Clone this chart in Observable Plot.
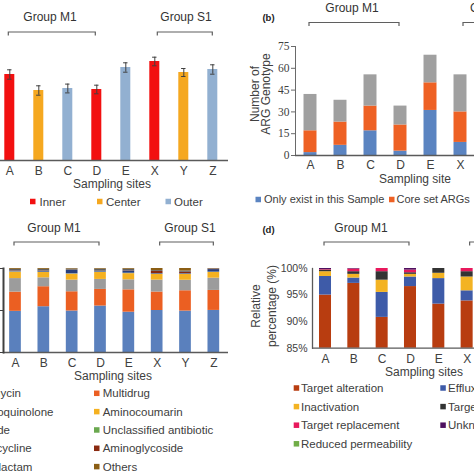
<!DOCTYPE html>
<html><head><meta charset="utf-8">
<script src="https://cdn.jsdelivr.net/npm/d3@7"></script>
<script src="https://cdn.jsdelivr.net/npm/@observablehq/plot@0.6"></script>
<style>
html,body{margin:0;padding:0;background:#fff;}
#wrap{position:relative;width:474px;height:474px;overflow:hidden;background:#fff;color:#404040;}
#wrap svg{position:absolute;left:0;top:0;}
</style></head><body><div id="wrap"></div>
<script>
// ---------- data ----------
const sites = ["A","B","C","D","E","X","Y","Z"];
// panel a
const zones = ["Inner","Center","Outer"];
const zoneColors = ["#f21010","#f5a820","#92b0d1"];
const zoneA = ["Inner","Center","Outer","Inner","Outer","Inner","Center","Outer"];
const valueA = [8.6,7.0,7.2,7.1,9.3,9.9,8.8,9.1];
const errA = [0.47,0.47,0.44,0.43,0.47,0.43,0.40,0.47];
// panel b
const sitesB = ["A","B","C","D","E","X"];
const seriesB = ["Only exist in this Sample","Core set ARGs","Shared ARGs"];
const colorsB = ["#5b84c1","#ee6124","#a0a0a0"];
const uniqueB = [2,7,17,3,31,9];
const coreB = [15,16,17,18,19,21];
const sharedB = [25,15,21.5,13,19,25.5];
const yTicksB = [0,15,30,45,60,75];
// panel c
const classesC = ["Elfamycin","Multidrug","Fluoroquinolone","Aminocoumarin","Peptide","Unclassified antibiotic","Tetracycline","Aminoglycoside","Beta-lactam","Others"];
const colorsC = ["#5a80bd","#eb5f22","#9c9c9c","#f5b120","#6fa3d8","#6aa84f","#283f7c","#8a2a10","#5f5f5f","#8b5e14"];
const elfamycinC = [49.0,54.5,49.4,55.3,48.0,50.0,49.3,50.1];
const multidrugC = [22.9,23.8,22.9,19.8,26.6,22.0,24.2,23.8];
const fluoroC = [16.1,10.6,13.9,11.9,11.9,14.2,12.5,14.6];
const aminocoumarinC = [7.7,6.4,7.1,8.3,7.4,6.7,6.9,6.8];
const peptideC = [0.3,0.3,0.3,0.4,0.4,0.3,0.3,0.3];
const unclassifiedC = [0.1,0.1,0.1,0.1,0.1,0.1,0.1,0.1];
const tetracyclineC = [0.8,0.9,4.0,0.8,2.6,0.6,0.6,3.0];
const aminoglycosideC = [0.4,0.4,0.3,0.2,0.3,2.6,1.6,0.5];
const betalactamC = [1.7,2.0,1.4,2.4,1.8,1.0,1.5,0.5];
const othersC = [1.0,1.0,0.6,0.8,0.9,2.5,3.0,0.3];
// panel d
const sitesD = ["A","B","C","D","E","X"];
const mechD = ["Target alteration","Efflux","Inactivation","Target protection","Target replacement","Unknown","Reduced permeability"];
const colorsD = ["#b83d10","#3e5ba8","#f3b323","#333333","#e8185c","#4e1060","#70ad47"];
const alterationD = [95.0,97.2,90.8,96.6,93.3,93.9];
const effluxD = [3.5,1.0,4.7,1.8,4.8,1.9];
const inactivationD = [0.9,0.7,2.3,0.5,1.0,2.6];
const protectionD = [0.3,0.5,1.6,0.3,0.9,1.0];
const replacementD = [0.1,0.5,0.6,0.5,0.0,0.6];
const unknownD = [0.2,0.1,0.0,0.3,0.0,0.0];
const permeabilityD = [0,0,0,0,0,0];
const yTicksD = [85,90,95,100];

// ---------- tables ----------
const dataA = sites.map((s,i)=>({site:s, zone:zoneA[i], value:valueA[i], err:errA[i]}));
const dataB = [];
sitesB.forEach((s,i)=>{[uniqueB,coreB,sharedB].forEach((arr,k)=>dataB.push({site:s, series:seriesB[k], n:arr[i]}));});
const arrC = [elfamycinC,multidrugC,fluoroC,aminocoumarinC,peptideC,unclassifiedC,tetracyclineC,aminoglycosideC,betalactamC,othersC];
const dataC = [];
sites.forEach((s,i)=>arrC.forEach((arr,k)=>dataC.push({site:s, cls:classesC[k], v:arr[i]})));
const arrD = [alterationD,effluxD,inactivationD,protectionD,replacementD,unknownD,permeabilityD];
const dataD = [];
sitesD.forEach((s,i)=>arrD.forEach((arr,k)=>dataD.push({site:s, mech:mechD[k], v:arr[i]})));

const W=474, H=474;
const SANS = "'Liberation Sans', Arial, sans-serif";
const TXT = "#404040";
const style = {background:"transparent", fontFamily:SANS, fontSize:"12px", color:TXT, overflow:"visible"};
const wrap = document.getElementById("wrap");

// ---------- panel a ----------
const plotA = Plot.plot({
  width:W, height:H, style, marginLeft:0, marginRight:W-228, marginTop:40, marginBottom:H-160,
  x:{domain:sites, range:[-5.2,226.8], paddingInner:0.655, paddingOuter:0.3275, round:false},
  y:{domain:[0,12], axis:null},
  color:{domain:zones, range:zoneColors},
  marks:[
    Plot.barY(dataA,{x:"site", y:"value", fill:"zone"}),
    Plot.ruleY([0],{stroke:"#5a5a5a", strokeWidth:1.3}),
    Plot.ruleX(dataA,{x:"site", y1:d=>d.value-d.err, y2:d=>d.value+d.err, stroke:"#404040"}),
    Plot.tickY(dataA,{x:"site", y:d=>d.value+d.err, stroke:"#404040", insetLeft:2.8, insetRight:2.8}),
    Plot.tickY(dataA,{x:"site", y:d=>d.value-d.err, stroke:"#404040", insetLeft:2.8, insetRight:2.8}),
    Plot.axisX({tickSize:0, tickPadding:6, fontSize:12, label:null})
  ]
});
wrap.appendChild(plotA);

// ---------- panel b ----------
const plotB = Plot.plot({
  width:W, height:H, style, marginLeft:295, marginRight:0, marginTop:46, marginBottom:H-155,
  x:{domain:sites, range:[295,535], paddingInner:0.567, paddingOuter:0.2835, round:false},
  y:{domain:[0,75]},
  color:{domain:seriesB, range:colorsB},
  marks:[
    Plot.barY(dataB,{x:"site", y:"n", fill:"series", order:seriesB}),
    Plot.frame({anchor:"left", stroke:"#6a6a6a"}),
    Plot.ruleY([0],{stroke:"#5a5a5a", strokeWidth:1.3}),
    Plot.axisY({ticks:yTicksB, tickSize:4, tickPadding:2, stroke:"#6a6a6a", fontFamily:"'Liberation Serif', 'Times New Roman', serif", fontSize:11.5, label:null}),
    Plot.axisX({tickSize:0, tickPadding:5, fontSize:12, label:null})
  ]
});
wrap.appendChild(plotB);

// ---------- panel c ----------
const plotC = Plot.plot({
  width:W, height:H, style, marginLeft:3, marginRight:W-228, marginTop:268, marginBottom:H-352,
  x:{domain:sites, range:[0.83,227.5], paddingInner:0.587, paddingOuter:0.2935, round:false},
  y:{domain:[0,100]},
  color:{domain:classesC, range:colorsC},
  marks:[
    Plot.barY(dataC,{x:"site", y:"v", fill:"cls", order:classesC}),
    Plot.ruleY([0],{stroke:"#5a5a5a", strokeWidth:1.3}),
    Plot.frame({anchor:"left", stroke:"#404040", strokeWidth:2}),
    Plot.axisY({ticks:[0,50,100], tickSize:3, tickPadding:2, stroke:"#404040", tickFormat:()=>"", label:null}),
    Plot.axisX({tickSize:0, tickPadding:6, fontSize:12, label:null})
  ]
});
wrap.appendChild(plotC);

// ---------- panel d ----------
const plotD = Plot.plot({
  width:W, height:H, style, marginLeft:312, marginRight:0, marginTop:268, marginBottom:H-347.7,
  x:{domain:sites, range:[312,536.3], paddingInner:0.576, paddingOuter:0.247, round:false},
  y:{domain:[85,100]},
  color:{domain:mechD, range:colorsD},
  marks:[
    Plot.barY(dataD,{x:"site", y:"v", fill:"mech", order:mechD, clip:true}),
    Plot.ruleY([85],{stroke:"#5a5a5a", strokeWidth:1.3}),
    Plot.frame({anchor:"left", stroke:"#5a5a5a", strokeWidth:1.3}),
    Plot.axisY({ticks:yTicksD, tickSize:0, tickPadding:5, tickFormat:d=>d+"%", fontSize:10.5, label:null}),
    Plot.axisX({tickSize:0, tickPadding:6, fontSize:12, label:null})
  ]
});
wrap.appendChild(plotD);

// ---------- annotations ----------
const ov = d3.select(wrap).append("svg").attr("width",W).attr("height",H)
  .style("font-family",SANS).style("overflow","visible");
function txt(x,y,s,o={}){
  const t = ov.append("text").attr("x",x).attr("y",y).attr("dy","0.35em")
    .attr("text-anchor",o.anchor||"middle").attr("font-size",o.size||12)
    .attr("font-weight",o.weight||"normal").attr("fill",o.fill||TXT).text(s);
  if (o.rotate) t.attr("transform",`rotate(${o.rotate},${x},${y})`);
  return t;
}
function bracket(x1,x2,y,h=3.5){
  ov.append("path").attr("d",`M${x1},${y+h}V${y}H${x2}V${y+h}`)
    .attr("fill","none").attr("stroke","#5f5f5f").attr("stroke-width",1.2);
}
function cx(plot,s){ const sc = plot.scale("x"); return sc.apply(s) + sc.bandwidth/2; }
function groups(plot,y,m1x,s1x,ly,s1anchor){
  bracket(cx(plot,"A")-1, cx(plot,"D")-1, y);
  bracket(cx(plot,"X")+3, cx(plot,"Z"), y);
  txt(m1x, ly, "Group M1", {fill:"#333"});
  txt(s1x, ly, "Group S1", {fill:"#333", anchor:s1anchor||"middle"});
}
groups(plotA, 32, 50, 186, 17);
groups(plotB, 22.5, 352, 470, 8, "start");
groups(plotC, 242, 54, 190, 228);
groups(plotD, 242, 361, 477, 228, "start");

txt(268.5, 18, "(b)", {size:9.5, weight:"bold", fill:"#222"});
txt(268.5, 230, "(d)", {size:9.5, weight:"bold", fill:"#222"});

txt(112, 184, "Sampling sites");
txt(415, 179, "Sampling site");
txt(113, 376, "Sampling sites");
txt(424, 372, "Sampling sites");
txt(254.5, 94, "Number of", {rotate:-90});
txt(266, 94, "ARG Genotype", {rotate:-90});
txt(256, 306, "Relative", {rotate:-90});
txt(271.5, 306, "percentage (%)", {rotate:-90});

function legendItem(sx, tx, y, color, label, size=11.5, sz=5.5){
  ov.append("rect").attr("x",sx).attr("y",y-sz/2).attr("width",sz).attr("height",sz).attr("fill",color);
  txt(tx, y, label, {anchor:"start", size});
}
// legend a
const legAx = [[30,39.5],[97,106],[165.5,174]];
zones.forEach((z,i)=>legendItem(legAx[i][0], legAx[i][1], 201.5, zoneColors[i], z));
// legend b
const legBx = [[255.5,264],[389,396.5]];
[0,1].forEach(i=>legendItem(legBx[i][0], legBx[i][1], 199.5, colorsB[i], seriesB[i], 11));
// legend c (two columns, row-wise)
classesC.forEach((c,i)=>{
  const row = Math.floor(i/2), col = i%2;
  const y = 393.3 + 18.33*row;
  if (col===0) legendItem(-37.5, -29, y, colorsC[i], c);
  else legendItem(94, 102.7, y, colorsC[i], c);
});
// legend d
mechD.forEach((m,i)=>{
  const row = Math.floor(i/2), col = i%2;
  const y = 388 + 18.6*row;
  if (col===0) legendItem(293.7, 301, y, colorsD[i], m);
  else legendItem(440.3, 448, y, colorsD[i], m);
});
</script></body></html>
